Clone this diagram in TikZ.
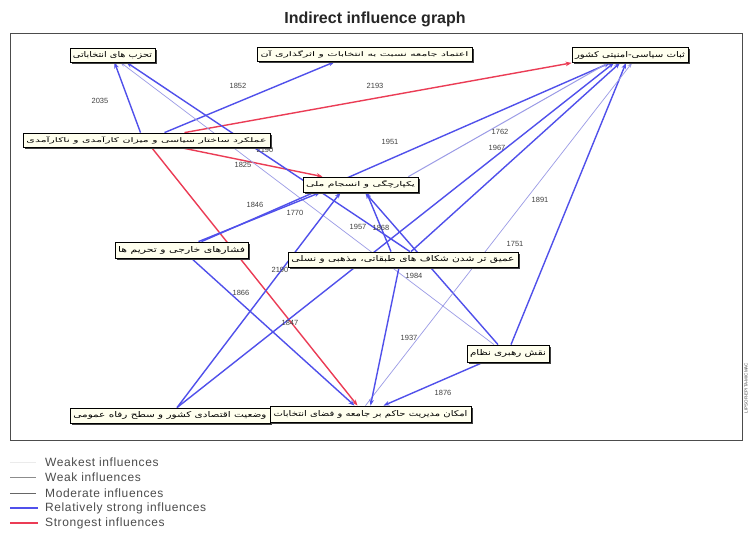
\documentclass[tikz,border=0pt]{standalone}
\usepackage{fontspec}
\usepackage{graphicx}
\setmainfont{Liberation Sans}
\newfontfamily\fa[Script=Arabic]{DejaVu Sans}
\TeXXeTstate=1
\usetikzlibrary{arrows.meta,shadows}
\definecolor{sblue}{RGB}{80,80,235}
\definecolor{sred}{RGB}{235,60,85}
\definecolor{lblue}{RGB}{155,155,230}
\definecolor{boxfill}{RGB}{255,255,238}
\pgfdeclarelayer{back}
\pgfdeclarelayer{edges}
\pgfsetlayers{back,edges,main}
\begin{document}
\begin{tikzpicture}[x=1pt,y=-1pt,
  box/.style={draw=black, line width=0.8pt, fill=boxfill, inner sep=1pt,
    font=\fa\fontsize{8}{8}\selectfont,
    drop shadow={shadow xshift=2pt, shadow yshift=-2pt, fill=black!75, opacity=1}},
  strong/.style={draw=sblue, line width=1.4pt, -{Stealth[length=6pt,width=4.5pt]}},
  strongest/.style={draw=sred, line width=1.4pt, -{Stealth[length=6pt,width=4.5pt]}},
  moderate/.style={draw=lblue, line width=0.7pt, -{Stealth[length=5pt,width=3.5pt]}},
  lab/.style={font=\fontsize{7.5}{8}\selectfont, text=black!75, inner sep=0.5pt},
  legtext/.style={font=\addfontfeature{LetterSpace=5}\fontsize{12}{12}\selectfont, text=black!70, anchor=west, inner sep=0pt}
]
\useasboundingbox (0,0) rectangle (748,534);
\begin{pgfonlayer}{back}
\fill[white] (0,0) rectangle (748,534);
\draw[line width=0.9pt, black!70] (10,33) rectangle (742,440);
\end{pgfonlayer}

\node[font=\bfseries\fontsize{16}{18}\selectfont, text=black!85] (title) at (375,19) {Indirect influence graph};
\node[font=\fontsize{4.5}{5}\selectfont, rotate=90, text=black!70] (copy) at (746,388) {LIPSOR-EPITA-MICMAC};

% boxes
\node[box, minimum width=85, minimum height=14] (A) at (112.5,55) {\resizebox{79pt}{6pt}{\beginR تحزب های انتخاباتی\endR}};
\node[box, minimum width=215, minimum height=14] (B) at (364.5,54.5) {\resizebox{208pt}{6pt}{\beginR اعتماد جامعه نسبت به انتخابات و اثرگذاری آن\endR}};
\node[box, minimum width=116, minimum height=15] (C) at (630,55) {\resizebox{110pt}{6pt}{\beginR ثبات سیاسی-امنیتی کشور\endR}};
\node[box, minimum width=247, minimum height=14] (D) at (146.5,140) {\resizebox{240pt}{6pt}{\beginR عملکرد ساختار سیاسی و میزان کارآمدی و ناکارآمدی\endR}};
\node[box, minimum width=115, minimum height=15] (E) at (360.5,184.5) {\resizebox{109pt}{6pt}{\beginR یکپارچگی و انسجام ملی\endR}};
\node[box, minimum width=133, minimum height=16] (F) at (181.5,250) {\resizebox{127pt}{6pt}{\beginR فشارهای خارجی و تحریم ها\endR}};
\node[box, minimum width=230, minimum height=15] (G) at (403,259.5) {\resizebox{223pt}{6pt}{\beginR عمیق تر شدن شکاف های طبقاتی، مذهبی و نسلی\endR}};
\node[box, minimum width=82, minimum height=17] (H) at (508,353.5) {\resizebox{76pt}{6pt}{\beginR نقش رهبری نظام\endR}};
\node[box, minimum width=200, minimum height=15] (I) at (170,415.5) {\resizebox{193pt}{6pt}{\beginR وضعیت اقتصادی کشور و سطح رفاه عمومی\endR}};
\node[box, minimum width=201, minimum height=16] (J) at (370.5,414) {\resizebox{194pt}{6pt}{\beginR امکان مدیریت حاکم بر جامعه و فضای انتخابات\endR}};

\begin{pgfonlayer}{edges}
% red
\draw[strongest] ([xshift=38pt]D.north) -- (C.south west);
\draw[strongest] ([xshift=33pt]D.south) -- ([xshift=-38pt]E.north);
\draw[strongest] ([xshift=5pt]D.south) -- ([xshift=-13pt]J.north);
% blue
\draw[strong] ([xshift=-6pt]D.north) -- ([xshift=2pt]A.south);
\draw[strong] ([xshift=18pt]D.north) -- ([xshift=-30pt]B.south);
\draw[strong] ([xshift=7pt]G.north) -- ([xshift=14pt]A.south);
\draw[moderate] ([xshift=-14pt]H.north) -- ([xshift=8pt]A.south);
\draw[strong] ([xshift=-10pt]H.north) -- ([xshift=4.5pt]E.south);
\draw[strong] ([xshift=3pt]H.north) -- ([xshift=-4pt]C.south);
\draw[strong] ([xshift=-25pt]H.south) -- ([xshift=13pt]J.north);
\draw[moderate] ([xshift=-5pt]J.north) -- ([xshift=2pt]C.south);
\draw[strong] ([xshift=-4pt]G.south) -- (J.north);
\draw[strong] ([xshift=-12pt]G.north) -- ([xshift=6pt]E.south);
\draw[strong] ([xshift=8pt]G.north) -- ([xshift=-10pt]C.south);
\draw[strong] ([xshift=7pt]I.north) -- ([xshift=-20pt]E.south);
\draw[strong] ([xshift=7pt]I.north) -- ([xshift=-16pt]C.south);
\draw[strong] ([xshift=17pt]F.north) -- ([xshift=-40pt]E.south);
\draw[strong] ([xshift=20pt]F.north) -- ([xshift=-20pt]C.south);
\draw[moderate, line width=1pt] ([xshift=-10pt]E.north east) -- ([xshift=-22pt]C.south);
\draw[strong] ([xshift=10pt]F.south) -- ([xshift=-16pt]J.north);

% labels
\node[lab] (l1) at (100,101) {2035};
\node[lab] (l2) at (238,86) {1852};
\node[lab] (l3) at (375,86) {2193};
\node[lab] (l4) at (390,142) {1951};
\node[lab] (l5) at (500,132) {1762};
\node[lab] (l6) at (497,148) {1967};
\node[lab] (l7) at (265,150) {2190};
\node[lab] (l8) at (243,165) {1825};
\node[lab] (l9) at (255,205) {1846};
\node[lab] (l10) at (295,213) {1770};
\node[lab] (l11) at (358,227) {1957};
\node[lab] (l12) at (381,228) {1868};
\node[lab] (l13) at (540,200) {1891};
\node[lab] (l14) at (515,244) {1751};
\node[lab] (l15) at (280,270) {2190};
\node[lab] (l16) at (241,293) {1866};
\node[lab] (l17) at (414,276) {1984};
\node[lab] (l18) at (290,323) {1847};
\node[lab] (l19) at (409,338) {1937};
\node[lab] (l20) at (443,393) {1876};
\end{pgfonlayer}

% legend
\coordinate (g1a) at (10,462); \coordinate (g1b) at (36,462);
\coordinate (g2a) at (10,477); \coordinate (g2b) at (36,477);
\coordinate (g3a) at (10,493); \coordinate (g3b) at (36,493);
\coordinate (g4a) at (10,508); \coordinate (g4b) at (38,508);
\coordinate (g5a) at (10,523); \coordinate (g5b) at (38,523);
\draw[black!8, line width=0.4pt] (g1a) -- (g1b);
\draw[black!45, line width=0.5pt] (g2a) -- (g2b);
\draw[black!60, line width=0.7pt] (g3a) -- (g3b);
\draw[sblue, line width=1.6pt] (g4a) -- (g4b);
\draw[sred, line width=1.6pt] (g5a) -- (g5b);
\node[legtext] (t1) at (45,462) {Weakest influences};
\node[legtext] (t2) at (45,477) {Weak influences};
\node[legtext] (t3) at (45,493) {Moderate influences};
\node[legtext] (t4) at (45,508) {Relatively strong influences};
\node[legtext] (t5) at (45,523) {Strongest influences};
\end{tikzpicture}
\end{document}
